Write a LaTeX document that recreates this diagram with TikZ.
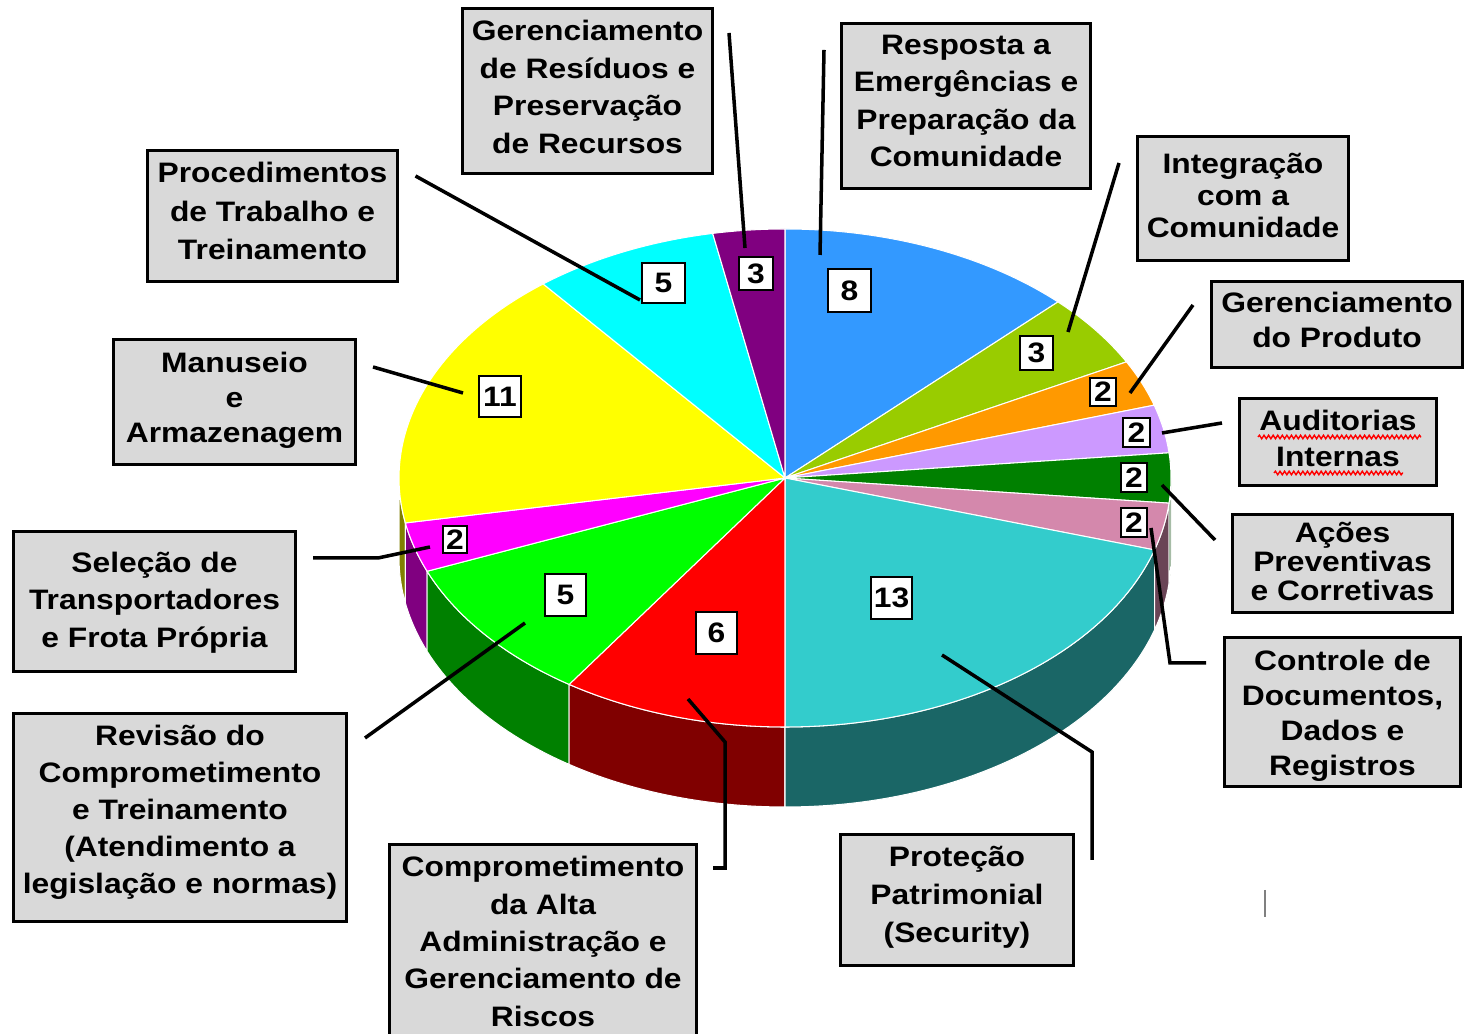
\documentclass[tikz,border=0pt]{standalone}
\usepackage{fontspec}
\usepackage{tikz}
\usetikzlibrary{decorations.pathmorphing}
\newfontfamily\lbfont{Liberation Sans}[FakeStretch=1.13]
\definecolor{boxgray}{RGB}{217,217,217}
\definecolor{pblue}{RGB}{51,153,255}
\definecolor{pyg}{RGB}{153,204,0}
\definecolor{porange}{RGB}{255,153,0}
\definecolor{plav}{RGB}{204,153,255}
\definecolor{pdkgreen}{RGB}{0,128,0}
\definecolor{ppink}{RGB}{212,136,172}
\definecolor{pteal}{RGB}{51,204,204}
\definecolor{pred}{RGB}{255,0,0}
\definecolor{pgreen}{RGB}{0,255,0}
\definecolor{pmag}{RGB}{255,0,255}
\definecolor{pyellow}{RGB}{255,255,0}
\definecolor{pcyan}{RGB}{0,255,255}
\definecolor{wteal}{RGB}{26,102,102}
\definecolor{wpink}{RGB}{106,68,86}
\definecolor{wdkgreen}{RGB}{0,64,0}
\definecolor{wred}{RGB}{128,0,0}
\definecolor{wgreen}{RGB}{0,128,0}
\definecolor{wmag}{RGB}{128,0,128}
\definecolor{wyellow}{RGB}{128,128,0}

\begin{document}
\begin{tikzpicture}[x=0.01cm,y=0.01cm,
  pieslice/.style={draw=white,line width=0.3pt,x radius=386,y radius=249},
  labelbox/.style={draw,line width=1pt,fill=boxgray,inner sep=0pt},
  boxtext/.style={align=center,inner sep=0pt,font=\lbfont\bfseries\fontsize{8}{#1}\selectfont},
  boxtext/.default=10.5,
  numbox/.style={draw,line width=0.6pt,fill=white,inner sep=0pt,font=\lbfont\bfseries\fontsize{8}{10}\selectfont},
  leader/.style={line width=1pt}]
\useasboundingbox (0,0) rectangle (1467,1034);
\coordinate (ctr) at (785,556);
\filldraw[pieslice,fill=wyellow](ctr) ++(180:386 and 249) arc[start angle=180,end angle=190.4] -- ++(0,-80) arc[start angle=190.4,end angle=180] -- cycle;
\filldraw[pieslice,fill=wmag](ctr) ++(190.4:386 and 249) arc[start angle=190.4,end angle=202] -- ++(0,-80) arc[start angle=202,end angle=190.4] -- cycle;
\filldraw[pieslice,fill=wgreen](ctr) ++(202:386 and 249) arc[start angle=202,end angle=236] -- ++(0,-80) arc[start angle=236,end angle=202] -- cycle;
\filldraw[pieslice,fill=wred](ctr) ++(236:386 and 249) arc[start angle=236,end angle=270] -- ++(0,-80) arc[start angle=270,end angle=236] -- cycle;
\filldraw[pieslice,fill=wteal](ctr) ++(270:386 and 249) arc[start angle=270,end angle=343.2] -- ++(0,-80) arc[start angle=343.2,end angle=270] -- cycle;
\filldraw[pieslice,fill=wpink](ctr) ++(343.2:386 and 249) arc[start angle=343.2,end angle=354.2] -- ++(0,-80) arc[start angle=354.2,end angle=343.2] -- cycle;
\filldraw[pieslice,fill=wdkgreen](ctr) ++(354.2:386 and 249) arc[start angle=354.2,end angle=360] -- ++(0,-80) arc[start angle=360,end angle=354.2] -- cycle;
\filldraw[pieslice,fill=pblue](ctr) -- ++(45:386 and 249) arc[start angle=45,end angle=90] -- cycle;
\filldraw[pieslice,fill=pyg](ctr) -- ++(27.8:386 and 249) arc[start angle=27.8,end angle=45] -- cycle;
\filldraw[pieslice,fill=porange](ctr) -- ++(17:386 and 249) arc[start angle=17,end angle=27.8] -- cycle;
\filldraw[pieslice,fill=plav](ctr) -- ++(5.8:386 and 249) arc[start angle=5.8,end angle=17] -- cycle;
\filldraw[pieslice,fill=pdkgreen](ctr) -- ++(-5.8:386 and 249) arc[start angle=-5.8,end angle=5.8] -- cycle;
\filldraw[pieslice,fill=ppink](ctr) -- ++(-16.8:386 and 249) arc[start angle=-16.8,end angle=-5.8] -- cycle;
\filldraw[pieslice,fill=pteal](ctr) -- ++(-90:386 and 249) arc[start angle=-90,end angle=-16.8] -- cycle;
\filldraw[pieslice,fill=pred](ctr) -- ++(-124:386 and 249) arc[start angle=-124,end angle=-90] -- cycle;
\filldraw[pieslice,fill=pgreen](ctr) -- ++(-158:386 and 249) arc[start angle=-158,end angle=-124] -- cycle;
\filldraw[pieslice,fill=pmag](ctr) -- ++(-169.6:386 and 249) arc[start angle=-169.6,end angle=-158] -- cycle;
\filldraw[pieslice,fill=pyellow](ctr) -- ++(128.8:386 and 249) arc[start angle=128.8,end angle=190.4] -- cycle;
\filldraw[pieslice,fill=pcyan](ctr) -- ++(100.8:386 and 249) arc[start angle=100.8,end angle=128.8] -- cycle;
\filldraw[pieslice,fill=wmag](ctr) -- ++(90:386 and 249) arc[start angle=90,end angle=100.8] -- cycle;
\node[numbox,minimum size=0.43cm] (n8) at (849.5,743.5) {8};
\node[numbox,minimum width=0.33cm,minimum height=0.34cm] (n3a) at (1036.5,681) {3};
\node[numbox,minimum width=0.26cm,minimum height=0.28cm] (n2a) at (1103,642) {2};
\node[numbox,minimum width=0.27cm,minimum height=0.29cm] (n2b) at (1136.5,601.5) {2};
\node[numbox,minimum width=0.26cm,minimum height=0.29cm] (n2c) at (1134,556.5) {2};
\node[numbox,minimum width=0.26cm,minimum height=0.29cm] (n2d) at (1134,511.5) {2};
\node[numbox,minimum width=0.41cm,minimum height=0.42cm] (n13) at (891.5,436) {13};
\node[numbox,minimum width=0.41cm,minimum height=0.42cm] (n6) at (716.5,401) {6};
\node[numbox,minimum width=0.41cm,minimum height=0.42cm] (n5a) at (565.5,439) {5};
\node[numbox,minimum width=0.24cm,minimum height=0.27cm] (n2e) at (455,494.5) {2};
\node[numbox,minimum width=0.42cm,minimum height=0.41cm] (n11) at (500,637.5) {11};
\node[numbox,minimum width=0.43cm,minimum height=0.40cm] (n5b) at (663.5,751) {5};
\node[numbox,minimum width=0.34cm,minimum height=0.33cm] (n3b) at (756,760.5) {3};
\node[labelbox,minimum width=2.50cm,minimum height=1.65cm] (gres) at (587.5,943) {};
\node[boxtext=10.7] (gres-t) at ([yshift=0.04cm]gres) {Gerenciamento\\de Resíduos e\\Preservação\\de Recursos};
\node[labelbox,minimum width=2.49cm,minimum height=1.65cm] (resp) at (966,928) {};
\node[boxtext=10.6] (resp-t) at ([yshift=0.05cm]resp) {Resposta a\\Emergências e\\Preparação da\\Comunidade};
\node[labelbox,minimum width=2.50cm,minimum height=1.31cm] (proc) at (272.5,818) {};
\node[boxtext=10.9] (proc-t) at ([yshift=0.05cm]proc) {Procedimentos\\de Trabalho e\\Treinamento};
\node[labelbox,minimum width=2.11cm,minimum height=1.24cm] (integ) at (1243,835.5) {};
\node[boxtext=9] (integ-t) at ([yshift=0.03cm]integ) {Integração\\com a\\Comunidade};
\node[labelbox,minimum width=2.51cm,minimum height=0.86cm] (gprod) at (1337,709.5) {};
\node[boxtext=9.7] (gprod-t) at ([yshift=0.045cm]gprod) {Gerenciamento\\do Produto};
\node[labelbox,minimum width=2.42cm,minimum height=1.25cm] (manus) at (234.5,632) {};
\node[boxtext=10] (manus-t) at ([yshift=0.02cm]manus) {Manuseio\\e\\Armazenagem};
\node[labelbox,minimum width=1.97cm,minimum height=0.87cm] (audit) at (1338,592) {};
\node[boxtext=10.2] (audit-t) at ([yshift=0.035cm]audit) {Auditorias\\Internas};
\node[labelbox,minimum width=2.20cm,minimum height=0.98cm] (acoes) at (1342.5,470.5) {};
\node[boxtext=8.3] (acoes-t) at ([yshift=0.02cm]acoes) {Ações\\Preventivas\\e Corretivas};
\node[labelbox,minimum width=2.82cm,minimum height=1.40cm] (selec) at (154.5,432.5) {};
\node[boxtext=10.7] (selec-t) at ([yshift=-0.01cm]selec) {Seleção de\\Transportadores\\e Frota Própria};
\node[labelbox,minimum width=2.36cm,minimum height=1.49cm] (contr) at (1342.5,322) {};
\node[boxtext=10] (contr-t) at ([yshift=-0.04cm]contr) {Controle de\\Documentos,\\Dados e\\Registros};
\node[labelbox,minimum width=3.33cm,minimum height=2.08cm] (revis) at (180,216.5) {};
\node[boxtext=10.5] (revis-t) at ([yshift=0.055cm]revis) {Revisão do\\Comprometimento\\e Treinamento\\(Atendimento a\\legislação e normas)};
\node[labelbox,minimum width=3.07cm,minimum height=2.08cm] (comp) at (543,85.5) {};
\node[boxtext=10.6] (comp-t) at ([yshift=0.07cm]comp) {Comprometimento\\da Alta\\Administração e\\Gerenciamento de\\Riscos};
\node[labelbox,minimum width=2.33cm,minimum height=1.31cm] (prot) at (957,134) {};
\node[boxtext=10.8] (prot-t) at ([yshift=0.027cm]prot) {Proteção\\Patrimonial\\(Security)};
\coordinate (proc-a) at (415.5,858);
\coordinate (proc-b) at (640,734);
\coordinate (gres-a) at (729,1001);
\coordinate (gres-b) at (745,786);
\coordinate (resp-a) at (824,984);
\coordinate (resp-b) at (820,779);
\coordinate (integ-a) at (1119,871);
\coordinate (integ-b) at (1068,702);
\coordinate (gprod-a) at (1193,729);
\coordinate (gprod-b) at (1130,641);
\coordinate (audit-a) at (1222,611);
\coordinate (audit-b) at (1162,601);
\coordinate (acoes-a) at (1215,494);
\coordinate (acoes-b) at (1162,549);
\coordinate (contr-a) at (1206,371);
\coordinate (contr-b) at (1151,506);
\coordinate (prot-a) at (1092,174);
\coordinate (prot-b) at (942,379);
\coordinate (comp-a) at (713,166);
\coordinate (comp-b) at (688,335);
\coordinate (revis-a) at (365,296);
\coordinate (revis-b) at (525,411);
\coordinate (selec-a) at (313,476);
\coordinate (selec-b) at (430,487);
\coordinate (manus-a) at (373,667);
\coordinate (manus-b) at (463,641);
\draw[leader] (proc-a) -- (proc-b);
\draw[leader] (gres-a) -- (gres-b);
\draw[leader] (resp-a) -- (resp-b);
\draw[leader] (integ-a) -- (integ-b);
\draw[leader] (gprod-a) -- (gprod-b);
\draw[leader] (audit-a) -- (audit-b);
\draw[leader] (acoes-a) -- (acoes-b);
\draw[leader] (contr-a) -- (1170,371) -- (contr-b);
\draw[leader] (prot-a) -- (1092,282) -- (prot-b);
\draw[leader] (comp-a) -- (725,166) -- (725,292) -- (comp-b);
\draw[leader] (revis-a) -- (revis-b);
\draw[leader] (selec-a) -- (378,476) -- (selec-b);
\draw[leader] (manus-a) -- (manus-b);
\draw[red,line width=0.4pt,decorate,decoration={snake,amplitude=0.5pt,segment length=1.3pt}] (1258,597) -- (1421,597);
\draw[red,line width=0.4pt,decorate,decoration={snake,amplitude=0.5pt,segment length=1.3pt}] (1274,561) -- (1403,561);
\draw[gray,line width=0.6pt] (1265,144) -- (1265,117);
\end{tikzpicture}
\end{document}
